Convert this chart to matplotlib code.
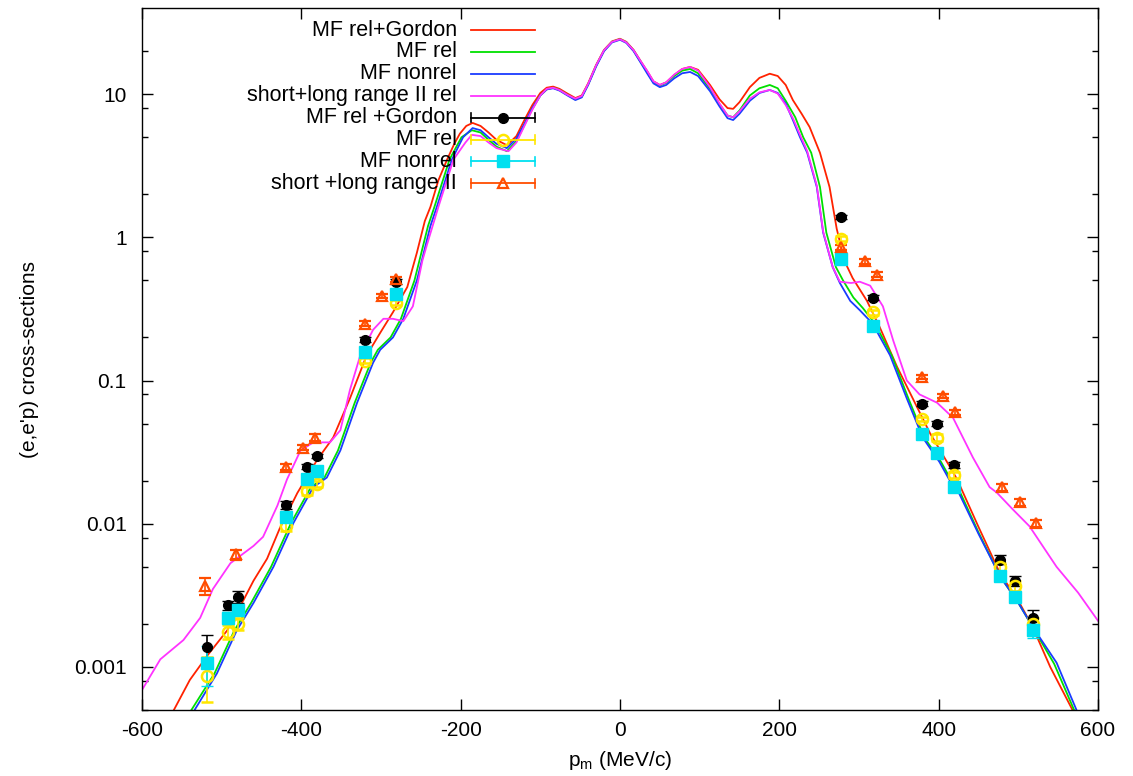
import matplotlib
matplotlib.use("Agg")
import matplotlib.pyplot as plt
from matplotlib.ticker import FixedLocator, FixedFormatter, NullFormatter

plt.rcParams['font.family'] = ['Liberation Sans', 'DejaVu Sans']
plt.rcParams['axes.unicode_minus'] = False

#%% theory curves
x_red = [-560, -540, -518, -493, -473, -460, -443, -427, -405, -380, -360, -339, -318, -300,
         -285, -267, -255, -245, -238, -228, -217, -208, -201, -193, -185, -175, -165, -155,
         -142, -130, -120, -110, -100, -92, -84, -76, -66, -56, -48, -40, -30, -20, -10, 0, 8,
         17, 26, 34, 42, 50, 58, 68, 78, 88, 98, 113, 125, 135, 142, 150, 163, 175, 188, 198,
         208, 217, 228, 238, 251, 263, 272, 282, 292, 310, 326, 348, 368, 389, 414, 423, 450,
         477, 500, 518, 540, 568]
y_red = [5e-4, 8.1e-4, 0.0012, 0.0018, 0.0029, 0.0040, 0.0057, 0.0093, 0.0164, 0.028, 0.040,
         0.075, 0.150, 0.22, 0.30, 0.45, 0.78, 1.3, 1.63, 2.5, 3.5, 4.5, 5.3, 6.0, 6.3, 6.0,
         5.4, 4.8, 4.4, 5.1, 6.6, 8.4, 10.2, 11.1, 11.3, 10.9, 10.1, 9.4, 9.8, 11.9, 16.0, 20.4,
         23.4, 24.4, 23.2, 20.4, 17.0, 14.5, 12.3, 11.6, 12.1, 13.6, 15.0, 15.5, 14.8, 11.6,
         9.2, 8.0, 7.9, 8.8, 11.2, 13.0, 13.9, 13.4, 11.6, 9.1, 7.3, 5.9, 3.9, 2.25, 1.15, 0.68,
         0.52, 0.36, 0.236, 0.124, 0.074, 0.043, 0.025, 0.0205, 0.0095, 0.0045, 0.0029, 0.0019,
         0.0010, 5e-4]

x_green = [-538, -509, -484, -463, -438, -413, -388, -371, -354, -333, -313, -304, -288, -275,
           -258, -241, -233, -214, -199, -186, -175, -165, -155, -142, -130, -120, -110, -100,
           -92, -84, -76, -66, -56, -48, -40, -30, -20, -10, 0, 8, 17, 26, 34, 42, 50, 58, 68,
           78, 88, 98, 113, 125, 135, 142, 150, 163, 175, 188, 198, 208, 220, 230, 240, 251,
           259, 271, 280, 293, 305, 320, 341, 362, 382, 403, 416, 425, 450, 477, 500, 518, 545,
           570]
y_green = [5e-4, 9e-4, 0.0018, 0.0028, 0.0050, 0.0101, 0.018, 0.021, 0.0325, 0.070, 0.133,
           0.164, 0.20, 0.27, 0.50, 1.2, 1.63, 3.5, 5.0, 5.6, 5.4, 4.8, 4.3, 4.0, 4.7, 6.1, 7.9,
           9.8, 10.8, 11.1, 10.7, 9.9, 9.2, 9.6, 11.7, 15.8, 20.2, 23.2, 24.2, 23.0, 20.2, 16.8,
           14.3, 12.1, 11.5, 12.0, 13.4, 14.6, 15.0, 14.0, 10.9, 8.5, 7.1, 6.9, 7.7, 9.8, 11.0,
           11.6, 11.0, 9.0, 6.9, 5.0, 3.9, 2.25, 1.08, 0.62, 0.50, 0.38, 0.32, 0.25, 0.150,
           0.075, 0.040, 0.027, 0.020, 0.0175, 0.0087, 0.0043, 0.0028, 0.0019, 0.00105, 5e-4]

x_blue = [-534, -506, -481, -460, -435, -410, -385, -368, -351, -330, -310, -301, -285, -272,
          -255, -238, -230, -211, -197, -185, -175, -165, -155, -142, -130, -120, -110, -100,
          -92, -84, -76, -66, -56, -48, -40, -30, -20, -10, 0, 8, 17, 26, 34, 42, 50, 58, 68,
          78, 88, 98, 113, 125, 135, 142, 150, 163, 175, 188, 198, 208, 217, 226, 235, 247, 255,
          267, 276, 289, 301, 317, 339, 360, 380, 401, 414, 423, 450, 477, 500, 518, 548, 573]
y_blue = [5e-4, 9e-4, 0.0018, 0.0028, 0.0050, 0.0101, 0.018, 0.021, 0.0325, 0.070, 0.133,
          0.164, 0.20, 0.27, 0.50, 1.2, 1.63, 3.5, 5.0, 5.8, 5.6, 5.0, 4.5, 4.2, 4.9, 6.2, 8.0,
          9.8, 10.8, 11.0, 10.6, 9.8, 9.1, 9.5, 11.6, 15.6, 20.0, 23.0, 24.0, 22.8, 20.0, 16.6,
          14.0, 11.9, 11.2, 11.6, 12.9, 14.0, 14.3, 13.4, 10.5, 8.2, 6.8, 6.6, 7.3, 9.0, 10.2,
          10.7, 10.2, 8.6, 6.6, 5.0, 3.9, 2.25, 1.08, 0.62, 0.48, 0.36, 0.31, 0.25, 0.150,
          0.075, 0.040, 0.027, 0.020, 0.0175, 0.0085, 0.0043, 0.0028, 0.0019, 0.00107, 5e-4]

x_mag = [-600, -577, -548, -527, -511, -489, -460, -448, -430, -418, -401, -385, -364, -351,
         -339, -326, -310, -297, -285, -272, -260, -248, -242, -228, -209, -194, -186, -175,
         -165, -155, -140, -130, -120, -110, -100, -92, -84, -76, -66, -56, -48, -40, -30, -20,
         -10, 0, 8, 17, 26, 34, 42, 50, 58, 68, 78, 88, 98, 113, 125, 135, 142, 150, 163, 175,
         188, 198, 208, 217, 226, 235, 247, 255, 267, 276, 290, 301, 314, 330, 343, 360, 376,
         398, 418, 443, 464, 473, 493, 514, 548, 575, 600]
y_mag = [6.9e-4, 0.00113, 0.00154, 0.0022, 0.0035, 0.0053, 0.0070, 0.0081, 0.0134, 0.0204,
         0.0325, 0.037, 0.037, 0.045, 0.086, 0.150, 0.226, 0.27, 0.27, 0.26, 0.33, 0.69, 0.9,
         1.63, 3.5, 4.6, 5.2, 5.1, 4.6, 4.2, 4.0, 4.6, 6.0, 7.8, 9.8, 10.9, 11.1, 10.7, 9.9,
         9.3, 9.7, 11.8, 15.9, 20.3, 23.2, 24.2, 23.0, 20.3, 17.0, 14.6, 12.3, 11.6, 12.1, 13.7,
         15.0, 15.5, 14.6, 11.2, 8.6, 7.1, 6.9, 7.6, 9.3, 10.3, 10.7, 10.1, 8.4, 6.8, 5.2, 4.0,
         2.3, 1.1, 0.62, 0.49, 0.48, 0.49, 0.46, 0.33, 0.19, 0.10, 0.080, 0.070, 0.055, 0.029,
         0.018, 0.0165, 0.0126, 0.0096, 0.0050, 0.0033, 0.0021]

#%% data points
x_pts = [-519, -492, -479, -419, -393, -380, -320, -281, 277, 318, 379, 398, 419, 477, 496, 519]
y_gordon = [0.00137, 0.0027, 0.0031, 0.0135, 0.025, 0.0297, 0.193, 0.49, 1.39, 0.38, 0.069,
            0.050, 0.0256, 0.0056, 0.0040, 0.0022]
e_gordon = [0.0003, 0.0002, 0.0003, 0.0008, 0.001, 0.001, 0.008, 0.02, 0.05, 0.015, 0.003,
            0.002, 0.0012, 0.0004, 0.0003, 0.0003]
y_rel = [8.7e-4, 0.00176, 0.0020, 0.0096, 0.017, 0.019, 0.138, 0.35, 0.98, 0.30, 0.054,
         0.040, 0.022, 0.0050, 0.0037, 0.0020]
e_rel = [0.0003, 0.0002, 0.0002, 0.0007, 0.001, 0.001, 0.006, 0.015, 0.04, 0.012, 0.002,
         0.002, 0.001, 0.0003, 0.0003, 0.0002]
y_nonrel = [0.00107, 0.0022, 0.0025, 0.0111, 0.0204, 0.0235, 0.158, 0.40, 0.71, 0.24, 0.042,
            0.031, 0.018, 0.0043, 0.0031, 0.0018]
e_nonrel = [0.00034, 0.0002, 0.0002, 0.0007, 0.001, 0.001, 0.006, 0.015, 0.03, 0.01, 0.002,
            0.0015, 0.001, 0.0003, 0.0002, 0.0002]

x_sl = [-521, -482, -419, -398, -383, -320, -299, -281, 278, 307, 322, 379, 405, 421, 479, 502, 522]
y_sl = [0.0037, 0.0061, 0.0249, 0.034, 0.040, 0.25, 0.39, 0.51, 0.85, 0.68, 0.55, 0.106,
        0.078, 0.060, 0.018, 0.0141, 0.0101]
e_sl = [0.0005, 0.0005, 0.0012, 0.0015, 0.002, 0.01, 0.015, 0.02, 0.03, 0.025, 0.02, 0.004,
        0.003, 0.0025, 0.001, 0.0008, 0.0006]

#%% colours
c_red = '#ff2200'
c_green = '#00e000'
c_blue = '#1a3cff'
c_mag = '#ff33ff'
c_yel = '#ffe600'
c_cyan = '#00e0f0'
c_orange = '#ff4d00'

#%% figure
fig = plt.figure(figsize=(11.33, 7.76), dpi=100)
ax = fig.add_axes([142/1133, 1 - 710/776, 956/1133, 702/776])

lw = 1.3
ax.plot(x_red, y_red, color=c_red, lw=lw)
ax.plot(x_green, y_green, color=c_green, lw=lw)
ax.plot(x_blue, y_blue, color=c_blue, lw=lw)
ax.plot(x_mag, y_mag, color=c_mag, lw=lw)

ax.errorbar(x_pts, y_gordon, yerr=e_gordon, fmt='o', color='black', ms=7, capsize=4, elinewidth=1.2)
ax.errorbar(x_pts, y_rel, yerr=e_rel, fmt='o', color=c_yel, mfc='none', mew=1.8, ms=8, capsize=4, elinewidth=1.2)
ax.errorbar(x_pts, y_nonrel, yerr=e_nonrel, fmt='s', color=c_cyan, ms=9, capsize=4, elinewidth=1.2)
ax.errorbar(x_sl, y_sl, yerr=e_sl, fmt='^', color=c_orange, mfc='none', mew=1.6, ms=6.5, capsize=4, elinewidth=1.2)

# axes
ax.set_xlim(-600, 600)
ax.set_yscale('log')
ax.set_ylim(5e-4, 40)
ax.xaxis.set_major_locator(FixedLocator([-600, -400, -200, 0, 200, 400, 600]))
ax.yaxis.set_major_locator(FixedLocator([0.001, 0.01, 0.1, 1, 10]))
ax.yaxis.set_major_formatter(FixedFormatter(['0.001', '0.01', '0.1', '1', '10']))
ax.yaxis.set_minor_locator(FixedLocator([m * 10.0**k for k in range(-4, 2) for m in (2, 5, 8)]))
ax.yaxis.set_minor_formatter(NullFormatter())
ax.tick_params(which='both', direction='in', top=True, right=True, width=1, labelsize=15)
ax.tick_params(which='major', length=8)
ax.tick_params(which='minor', length=4)
ax.tick_params(axis='y', pad=11)
ax.tick_params(axis='x', pad=8)
for s in ax.spines.values():
    s.set_linewidth(1.0)

ax.set_xlabel('p$_\\mathregular{m}$ (MeV/c)', fontsize=15)
ax.xaxis.set_label_coords(0.5, -0.055)
ax.set_ylabel("(e,e'p) cross-sections", fontsize=15)
ax.yaxis.set_label_coords(-0.108, 0.5)

#%% key, gnuplot style (text on the left, sample on the right)
labels = ['MF rel+Gordon', 'MF rel', 'MF nonrel', 'short+long range II rel',
          'MF rel +Gordon', 'MF rel', 'MF nonrel', 'short +long range II']
key_cols = [c_red, c_green, c_blue, c_mag, 'black', c_yel, c_cyan, c_orange]
x_txt = (457 - 142) / 956
x0 = (471 - 142) / 956
x1 = (535 - 142) / 956
xm = (x0 + x1) / 2
row0 = 1 - (30 - 8) / 702
drow = 21.9 / 702
cap = 4.5 / 702
for i, lab in enumerate(labels):
    yy = row0 - i * drow
    ax.text(x_txt, yy, lab, transform=ax.transAxes, ha='right', va='center', fontsize=15.5)
    ax.plot([x0, x1], [yy, yy], color=key_cols[i], lw=lw, transform=ax.transAxes, clip_on=False)
    if i >= 4:
        for xc in (x0, x1):
            ax.plot([xc, xc], [yy - cap, yy + cap], color=key_cols[i], lw=1.2,
                    transform=ax.transAxes, clip_on=False)
ax.plot([xm], [row0 - 4 * drow], 'o', color='black', ms=7, transform=ax.transAxes)
ax.plot([xm], [row0 - 5 * drow], 'o', color=c_yel, mfc='none', mew=1.8, ms=8, transform=ax.transAxes)
ax.plot([xm], [row0 - 6 * drow], 's', color=c_cyan, ms=9, transform=ax.transAxes)
ax.plot([xm], [row0 - 7 * drow], '^', color=c_orange, mfc='none', mew=1.6, ms=6.5, transform=ax.transAxes)

fig.savefig('out.png', dpi=100)
